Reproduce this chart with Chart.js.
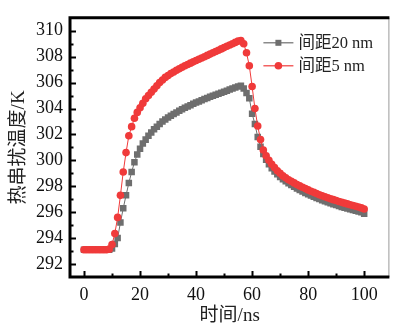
<!DOCTYPE html>
<html>
<head>
<meta charset="utf-8">
<script src="https://cdn.jsdelivr.net/npm/chart.js@4"></script>
<style>
  html, body { margin: 0; padding: 0; background: #fff; }
  #holder { width: 394px; height: 327px; }
</style>
</head>
<body>
<div id="holder"><canvas id="chart" width="394" height="327"></canvas></div>
<script>
"use strict";

// time axis, ns
const times = [
  0, 1, 2, 3, 4, 5, 6, 7, 8, 9,
  10, 11, 12, 13, 14, 15, 16, 17, 18, 19,
  20, 21, 22, 23, 24, 25, 26, 27, 28, 29,
  30, 31, 32, 33, 34, 35, 36, 37, 38, 39,
  40, 41, 42, 43, 44, 45, 46, 47, 48, 49,
  50, 51, 52, 53, 54, 55, 56, 57, 58, 59,
  60, 61, 62, 63, 64, 65, 66, 67, 68, 69,
  70, 71, 72, 73, 74, 75, 76, 77, 78, 79,
  80, 81, 82, 83, 84, 85, 86, 87, 88, 89,
  90, 91, 92, 93, 94, 95, 96, 97, 98, 99,
  100
];

// spacing 20 nm
const temp20nm = [
  293.1, 293.1, 293.1, 293.1, 293.1, 293.1, 293.1, 293.1, 293.1, 293.1,
  293.2, 293.55, 294.0, 295.2, 296.3, 297.3, 298.25, 299.1, 299.85, 300.45,
  300.9, 301.3, 301.6, 301.9, 302.15, 302.4, 302.6, 302.8, 303.0, 303.15,
  303.3, 303.45, 303.58, 303.7, 303.82, 303.94, 304.05, 304.16, 304.26, 304.36,
  304.46, 304.55, 304.64, 304.73, 304.82, 304.9, 304.98, 305.06, 305.14, 305.22,
  305.3, 305.38, 305.46, 305.54, 305.62, 305.7, 305.75, 305.55, 305.2, 304.8,
  303.6, 302.8, 301.8, 301.05, 300.5, 300.05, 299.7, 299.4, 299.15, 298.92,
  298.72, 298.55, 298.38, 298.23, 298.09, 297.96, 297.83, 297.71, 297.6, 297.49,
  297.39, 297.29, 297.19, 297.1, 297.01, 296.93, 296.85, 296.77, 296.69, 296.62,
  296.55, 296.48, 296.41, 296.35, 296.29, 296.23, 296.17, 296.11, 296.05, 296.0,
  295.88
];

// spacing 5 nm
const temp5nm = [
  293.1, 293.1, 293.1, 293.1, 293.1, 293.1, 293.1, 293.1, 293.1, 293.15,
  293.5, 294.35, 295.6, 297.3, 299.1, 300.6, 301.9, 302.6, 303.25, 303.7,
  304.05, 304.4, 304.75, 305.0, 305.25, 305.5, 305.75, 306.0, 306.2, 306.4,
  306.55, 306.7, 306.82, 306.95, 307.07, 307.18, 307.3, 307.4, 307.5, 307.6,
  307.7, 307.8, 307.9, 308.0, 308.1, 308.2, 308.3, 308.4, 308.5, 308.6,
  308.7, 308.8, 308.9, 309.0, 309.1, 309.2, 309.25, 309.0, 308.3, 307.3,
  305.7, 304.0, 302.65, 301.6, 300.8, 300.35, 300.0, 299.7, 299.45, 299.2,
  299.0, 298.8, 298.65, 298.5, 298.38, 298.26, 298.14, 298.03, 297.92, 297.82,
  297.72, 297.62, 297.53, 297.44, 297.35, 297.27, 297.19, 297.11, 297.04, 296.97,
  296.9, 296.83, 296.76, 296.7, 296.64, 296.58, 296.52, 296.46, 296.4, 296.33,
  296.25
];

const seriesLabels = ["间距20 nm", "间距5 nm"];

const xTickValues = [0, 20, 40, 60, 80, 100];
const xMinorTicks = [10, 30, 50, 70, 90];
const yTickValues = [292, 294, 296, 298, 300, 302, 304, 306, 308, 310];
const yMinorTicks = [293, 295, 297, 299, 301, 303, 305, 307, 309];

const GRAY = "#6e6e6e";
const RED = "#f03a3a";
const SERIF = "'Liberation Serif', 'Times New Roman', 'Noto Sans CJK SC', serif";

function toPoints(xs, ys) {
  return xs.map((x, i) => ({ x: x, y: ys[i] }));
}

// frame + inward ticks
const framePlugin = {
  id: "frame",
  afterDatasetsDraw(chart) {
    const ctx = chart.ctx;
    const a = chart.chartArea;
    const xs = chart.scales.x;
    const ys = chart.scales.y;
    ctx.save();
    ctx.strokeStyle = "#000";
    ctx.lineWidth = 2;
    for (const v of xTickValues) {
      const px = Math.round(xs.getPixelForValue(v)) + 0.5;
      ctx.beginPath(); ctx.moveTo(px, a.bottom); ctx.lineTo(px, a.bottom - 6); ctx.stroke();
    }
    for (const v of xMinorTicks) {
      const px = Math.round(xs.getPixelForValue(v)) + 0.5;
      ctx.beginPath(); ctx.moveTo(px, a.bottom); ctx.lineTo(px, a.bottom - 3.5); ctx.stroke();
    }
    for (const v of yTickValues) {
      const py = Math.round(ys.getPixelForValue(v)) + 0.5;
      ctx.beginPath(); ctx.moveTo(a.left, py); ctx.lineTo(a.left + 6, py); ctx.stroke();
    }
    for (const v of yMinorTicks) {
      const py = Math.round(ys.getPixelForValue(v)) + 0.5;
      ctx.beginPath(); ctx.moveTo(a.left, py); ctx.lineTo(a.left + 3.5, py); ctx.stroke();
    }
    // right edge, thin gray
    ctx.strokeStyle = "#9a9a9a";
    ctx.lineWidth = 1;
    ctx.beginPath(); ctx.moveTo(a.right - 0.5, a.top); ctx.lineTo(a.right - 0.5, a.bottom); ctx.stroke();
    // left, top, bottom, thick black
    ctx.strokeStyle = "#000";
    ctx.lineWidth = 3;
    ctx.beginPath();
    ctx.moveTo(a.right, a.top); ctx.lineTo(a.left, a.top);
    ctx.lineTo(a.left, a.bottom); ctx.lineTo(a.right, a.bottom);
    ctx.stroke();
    ctx.restore();
  }
};

// legend: line with marker, then label
const legendPlugin = {
  id: "lineLegend",
  afterDraw(chart) {
    const ctx = chart.ctx;
    const a = chart.chartArea;
    const x0 = a.right - 126;
    const rows = [a.top + 25, a.top + 48];
    ctx.save();
    chart.data.datasets.forEach((ds, i) => {
      const y = rows[i];
      ctx.strokeStyle = ds.borderColor;
      ctx.lineWidth = 1.2;
      ctx.beginPath(); ctx.moveTo(x0, y); ctx.lineTo(x0 + 30, y); ctx.stroke();
      ctx.fillStyle = ds.backgroundColor;
      if (ds.pointStyle === "rect") {
        ctx.fillRect(x0 + 15 - 3, y - 3, 6, 6);
      } else {
        ctx.beginPath(); ctx.arc(x0 + 15, y, 3.8, 0, Math.PI * 2); ctx.fill();
      }
      ctx.fillStyle = "#222";
      ctx.font = "16.5px " + SERIF;
      ctx.textBaseline = "middle";
      ctx.fillText(ds.label, x0 + 35, y + 1);
    });
    ctx.restore();
  }
};

const datasets = [
  {
    label: seriesLabels[0],
    data: toPoints(times, temp20nm),
    borderColor: GRAY,
    backgroundColor: GRAY,
    borderWidth: 1,
    pointStyle: "rect",
    pointRadius: 4.6,
    pointBorderWidth: 0,
    order: 1
  },
  {
    label: seriesLabels[1],
    data: toPoints(times, temp5nm),
    borderColor: RED,
    backgroundColor: RED,
    borderWidth: 1,
    pointStyle: "circle",
    pointRadius: 3.8,
    pointBorderWidth: 0,
    order: 0
  }
];

const config = {
  type: "line",
  data: { datasets: datasets },
  options: {
    responsive: false,
    animation: false,
    layout: { padding: { top: 14, right: 1, left: 0, bottom: 0 } },
    plugins: { legend: { display: false }, tooltip: { enabled: false } },
    elements: { line: { tension: 0 } },
    scales: {
      x: {
        type: "linear",
        min: -5,
        max: 109,
        afterBuildTicks: (s) => { s.ticks = xTickValues.map(v => ({ value: v })); },
        afterFit: (s) => { s.height = 50; },
        grid: { display: false, drawTicks: false },
        border: { display: false },
        ticks: { color: "#111", padding: 7, font: { family: SERIF, size: 18 } },
        title: {
          display: true,
          text: "时间/ns",
          color: "#222",
          padding: { top: 0, bottom: 0 },
          font: { family: SERIF, size: 19 }
        }
      },
      y: {
        type: "linear",
        min: 291,
        max: 311,
        afterBuildTicks: (s) => { s.ticks = yTickValues.map(v => ({ value: v })); },
        afterFit: (s) => { s.width = 70; },
        grid: { display: false, drawTicks: false },
        border: { display: false },
        ticks: { color: "#111", padding: 7, font: { family: SERIF, size: 18 } },
        title: {
          display: true,
          text: "热串扰温度/K",
          color: "#222",
          padding: { top: 8, bottom: 0 },
          font: { family: SERIF, size: 19 }
        }
      }
    }
  },
  plugins: [framePlugin, legendPlugin]
};

new Chart(document.getElementById("chart").getContext("2d"), config);
</script>
</body>
</html>
